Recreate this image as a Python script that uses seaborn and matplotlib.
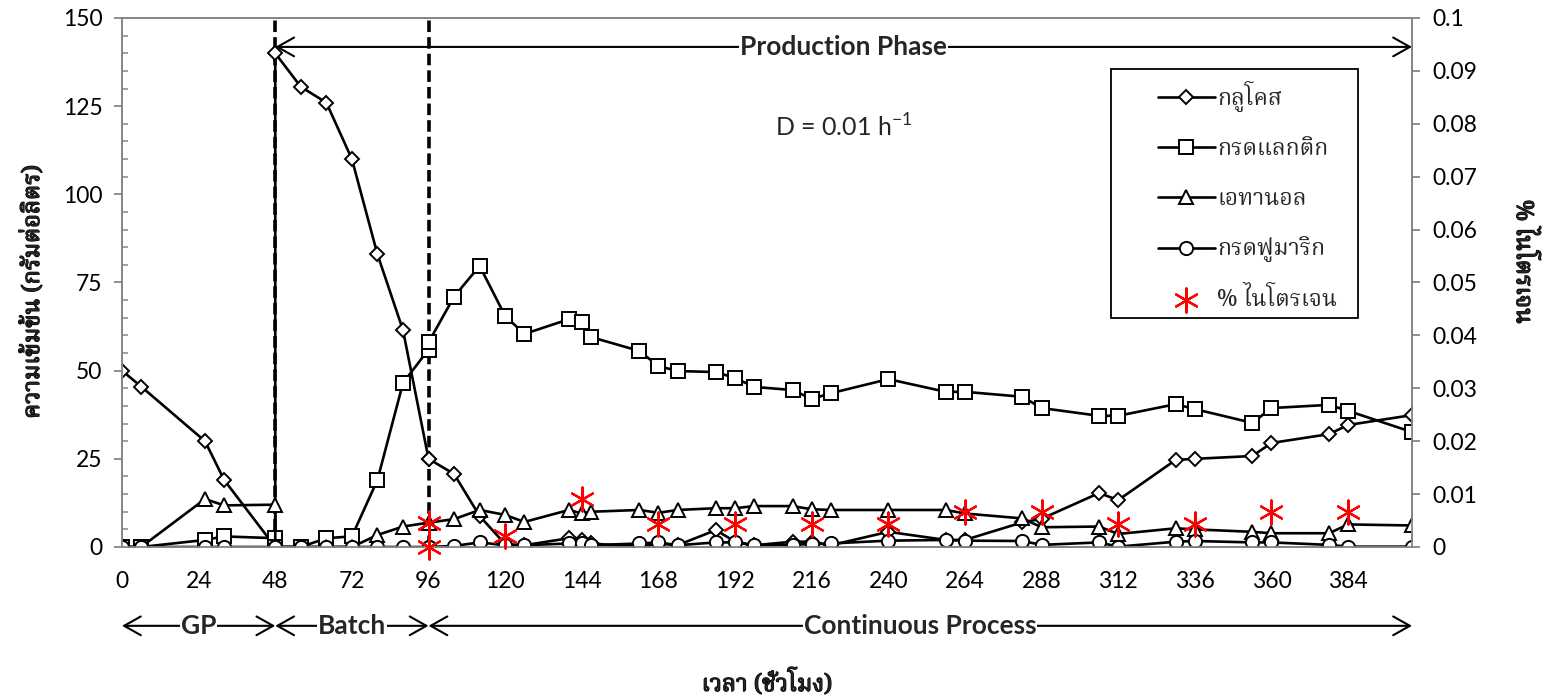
import matplotlib
matplotlib.use("Agg")
import matplotlib.pyplot as plt
import matplotlib.patheffects as pe
from matplotlib import font_manager
from matplotlib.ft2font import FT2Font
from matplotlib.patches import Rectangle
from matplotlib.ticker import MultipleLocator, FuncFormatter
import pandas as pd
import seaborn as sns

# Sampling times (h); repeated times mark the switch between phases
hours = [0, 6, 26, 32, 48, 48, 56, 64, 72, 80, 88, 96, 96, 104, 112, 120, 126,
         140, 144, 147, 162, 168, 174, 186, 192, 198, 210, 216, 222, 240, 258,
         264, 282, 288, 306, 312, 330, 336, 354, 360, 378, 384, 404]
glucose = [50, 45.5, 30, 19, 0, 140, 130.5, 126, 110, 83, 61.5, 25, 25, 20.7,
           8.8, 0.8, 0.5, 2.5, 2, 1, 0, 1, 0.5, 4.8, 1.5, 0.5, 1.5, 1.5, 0.5,
           4.3, 2, 2, 7, 8, 15.3, 13.3, 24.7, 25, 25.8, 29.5, 32, 34.6, 37.4]
lactic = [0, 0, 2, 3, 2.5, 0, 0, 2.5, 3, 19, 46.5, 56, 58, 71, 79.7, 65.5,
          60.4, 64.6, 63.8, 59.5, 55.6, 51.3, 49.9, 49.6, 47.9, 45.4, 44.5, 42,
          43.6, 47.6, 44, 44, 42.6, 39.4, 37.2, 37.2, 40.5, 39.1, 35.2, 39.4,
          40.3, 38.6, 32.6]
ethanol = [0, 0, 13.6, 11.8, 12, 0, 0, 0, 0, 3.4, 5.8, 6.9, 6.9, 7.9, 10.5,
           9.1, 7.1, 10.5, 9.5, 10, 10.5, 9.7, 10.5, 11, 11, 11.6, 11.6, 10.7,
           10.5, 10.5, 10.5, 9.5, 8.1, 5.6, 5.8, 3.7, 5.3, 5.0, 4.3, 3.9, 3.9,
           6.4, 6.1]
fumaric = [0, 0, 0, 0, 0, 0, 0, 0, 0, 0, 0, 0, 0, 0.3, 1.3, 0.5, 0.5, 1, 1,
           0.5, 1, 1.3, 0.5, 1.3, 1.3, 0.5, 0.7, 0.8, 1.0, 1.8, 2, 1.8, 1.7,
           0.6, 1.3, 0.1, 1.5, 1.7, 1.3, 1.3, 0.6, 0.1, 0.1]
nitrogen_hours = [96, 96, 120, 144, 168, 192, 216, 240, 264, 288, 312, 336,
                  360, 384]
nitrogen_pct = [0.0045, 0, 0.002, 0.009, 0.0043, 0.0043, 0.0043, 0.0043,
                0.0067, 0.0067, 0.0043, 0.0043, 0.0067, 0.0066]

series_names = ["กลูโคส", "กรดแลกติก", "เอทานอล", "กรดฟูมาริก"]
series_markers = ["D", "s", "^", "o"]
series_sizes = [7, 9.5, 10, 9.5]
nitrogen_name = "% ไนโตรเจน"
x_ticks = list(range(0, 385, 24))
phase_bounds = [0, 48, 96, 404]
phase_names = ["GP", "Batch", "Continuous Process"]
production_label = "Production Phase"
dilution_label = r"D = 0.01 h$^{\mathregular{-1}}$"
left_label = "ความเข้มข้น (กรัมต่อลิตร)"
right_label = "% ไนโตรเจน"
bottom_label = "เวลา (ชั่วโมง)"


def thai_family():
    """Return an installed family that can draw Thai script."""
    found = []
    for f in font_manager.fontManager.ttflist:
        try:
            cmap = FT2Font(f.fname).get_charmap()
        except Exception:
            continue
        if 0x0E01 in cmap and 0x0E40 in cmap and 0x0E48 in cmap:
            found.append(f.name)
    for pref in ["Noto Serif Thai", "Noto Sans Thai", "Loma", "Garuda",
                 "Norasi", "Tlwg Typo", "DejaVu Sans"]:
        if pref in found:
            return pref
    return found[0] if found else "DejaVu Sans"


sns.set_theme(style="white")
THAI = thai_family()
LATIN = "Lato"
plt.rcParams["font.family"] = [LATIN, "DejaVu Sans"]
plt.rcParams["mathtext.fontset"] = "custom"
plt.rcParams["mathtext.rm"] = LATIN
thai_fam = [THAI, "DejaVu Sans"]
# heavier strokes for the Thai axis titles
heavy = [pe.withStroke(linewidth=0.9, foreground="black")]

GRAY = "#868686"

fig = plt.figure(figsize=(15.46, 6.97), dpi=100)
ax = fig.add_axes([0.07891, 0.21521, 0.83441, 0.75897])

df = pd.DataFrame({"h": hours, series_names[0]: glucose,
                   series_names[1]: lactic, series_names[2]: ethanol,
                   series_names[3]: fumaric})

for name, mk, ms in zip(series_names, series_markers, series_sizes):
    sns.lineplot(data=df, x="h", y=name, ax=ax, estimator=None, sort=False,
                 color="black", linewidth=1.9, marker=mk, markersize=ms,
                 markerfacecolor="white", markeredgecolor="black",
                 markeredgewidth=1.4, label=name, legend=False, zorder=3)

ax.set_xlim(0, 404)
ax.set_ylim(0, 150)
ax.set_xticks(x_ticks)
ax.yaxis.set_major_locator(MultipleLocator(25))
ax.yaxis.set_minor_locator(MultipleLocator(5))

# phase boundaries
for xb in phase_bounds[1:3]:
    ax.axvline(xb, color="black", linewidth=2.6, linestyle=(0, (3.2, 1.4)),
               zorder=2)

ax2 = ax.twinx()
ndf = pd.DataFrame({"h": nitrogen_hours, "n": nitrogen_pct})
sns.scatterplot(data=ndf, x="h", y="n", ax=ax2, marker=(6, 2, 0), s=300,
                color="red", linewidth=1.6, label=nitrogen_name, legend=False,
                zorder=4, clip_on=False)
ax2.set_ylim(0, 0.1)
ax2.set_xlim(0, 404)
ax2.yaxis.set_major_locator(MultipleLocator(0.01))
ax2.yaxis.set_major_formatter(FuncFormatter(lambda v, p: f"{v:g}"))

for a in (ax, ax2):
    for sp in a.spines.values():
        sp.set_color(GRAY)
        sp.set_linewidth(1.3)
    a.grid(False)

ax.tick_params(axis="both", which="major", direction="out", length=6,
               width=1.3, color=GRAY, labelsize=16.5, labelcolor="black",
               pad=8)
ax.tick_params(axis="y", which="minor", direction="in", length=4,
               width=1.1, color=GRAY, left=True)
ax.tick_params(axis="x", which="major", pad=11)
ax2.tick_params(axis="y", which="major", direction="out", length=6,
                width=1.3, color=GRAY, labelsize=16.5, labelcolor="black",
                pad=9)

ax.set_xlabel(bottom_label, family=thai_fam, fontweight="bold", fontsize=17,
              path_effects=heavy)
ax.xaxis.label.set_va("center")
ax.xaxis.set_label_coords(0.5, -0.258)
ax.set_ylabel(left_label, family=thai_fam, fontweight="bold", fontsize=17,
              path_effects=heavy)
ax.yaxis.label.set_va("center")
ax.yaxis.set_label_coords(-0.069, 0.482)
ax2.set_ylabel(right_label, family=thai_fam, fontweight="bold", fontsize=17,
               rotation=270, va="center", path_effects=heavy)
ax2.yaxis.set_label_coords(1.086, 0.539)

# Production phase span
prod_y = 141.8
arrow_kw = dict(arrowstyle="<->,head_length=0.8,head_width=0.45",
                color="black", lw=1.5, shrinkA=0, shrinkB=0,
                mutation_scale=15)
ax2.annotate("", xy=(phase_bounds[1], prod_y / 1500), xytext=(404, prod_y / 1500),
             arrowprops=arrow_kw, annotation_clip=False)
ax2.text((phase_bounds[1] + 404) / 2, prod_y / 1500, production_label,
         ha="center", va="center", fontsize=19, fontweight="bold",
         bbox=dict(boxstyle="square,pad=0.03", fc="white", ec="none"),
         zorder=6)
ax2.text(226, 119 / 1500, dilution_label, ha="center", va="center",
         fontsize=18)

# Process phases below the time axis
tr = ax.get_xaxis_transform()
phase_y = -0.149
for x0, x1, name in zip(phase_bounds[:-1], phase_bounds[1:], phase_names):
    ax.annotate("", xy=(x0, phase_y), xytext=(x1, phase_y), xycoords=tr,
                textcoords=tr, arrowprops=arrow_kw, annotation_clip=False)
    ax.text((x0 + x1) / 2, phase_y, name, transform=tr, ha="center",
            va="center", fontsize=19, fontweight="bold", clip_on=False,
            bbox=dict(boxstyle="square,pad=0.03", fc="white", ec="none"),
            zorder=6)

# Legend with a fixed frame
h1, l1 = ax.get_legend_handles_labels()
h2, l2 = ax2.get_legend_handles_labels()
box_x0, box_y0, box_x1, box_y1 = 0.767, 0.433, 0.958, 0.904
ax2.add_patch(Rectangle((box_x0, box_y0), box_x1 - box_x0, box_y1 - box_y0,
                        transform=ax2.transAxes, fc="white", ec="black",
                        lw=1.3, zorder=7))
leg = ax2.legend(h1 + h2, l1 + l2, loc="upper left",
                 bbox_to_anchor=(0.791, 0.912), frameon=False,
                 prop={"family": thai_fam, "size": 16.5}, labelspacing=1.12,
                 handlelength=2.45, handletextpad=0.12, borderpad=0.2)
leg.set_zorder(8)

fig.savefig("out.png", dpi=100)
